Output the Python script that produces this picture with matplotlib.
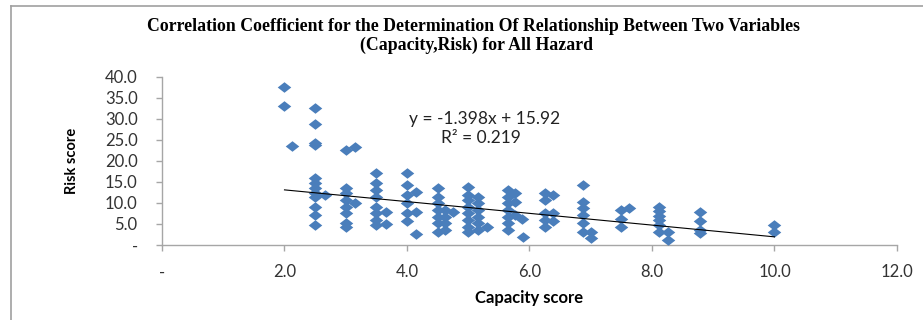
import numpy as np
import matplotlib
matplotlib.use('agg')
from matplotlib import pyplot as plt
from matplotlib.lines import Line2D

plt.rcParams['font.family'] = ['Lato', 'DejaVu Sans']

# capacity score / risk score pairs, read column by column
capacity = [2.0, 2.0,
            2.13,
            2.5, 2.5, 2.5, 2.5, 2.5, 2.5, 2.5, 2.5, 2.5, 2.5, 2.5, 2.5,
            2.66,
            3.0, 3.0, 3.0, 3.0, 3.0, 3.0, 3.0, 3.0,
            3.15, 3.15,
            3.5, 3.5, 3.5, 3.5, 3.5, 3.5, 3.5, 3.5,
            3.66, 3.66,
            4.0, 4.0, 4.0, 4.0, 4.0, 4.0,
            4.14, 4.14, 4.14,
            4.5, 4.5, 4.5, 4.5, 4.5, 4.5, 4.5,
            4.62, 4.62, 4.62, 4.62,
            4.75,
            5.0, 5.0, 5.0, 5.0, 5.0, 5.0, 5.0, 5.0,
            5.16, 5.16, 5.16, 5.16, 5.16, 5.16,
            5.3,
            5.65, 5.65, 5.65, 5.65, 5.65, 5.65, 5.65,
            5.76, 5.76, 5.76,
            5.88, 5.9,
            6.25, 6.25, 6.25, 6.25, 6.25,
            6.38, 6.38, 6.38,
            6.87, 6.87, 6.87, 6.87, 6.87, 6.87,
            7.01, 7.01,
            7.5, 7.5, 7.5,
            7.63,
            8.12, 8.12, 8.12, 8.12, 8.12, 8.12,
            8.26, 8.26,
            8.78, 8.78, 8.78, 8.78,
            10.0, 10.0]
risk = [37.7, 33.1,
        23.6,
        32.7, 28.8, 24.2, 23.8, 15.9, 14.7, 13.5, 12.3, 11.5, 9.1, 7.1, 4.8,
        11.9,
        22.6, 13.5, 12.3, 10.7, 9.1, 7.5, 5.2, 4.4,
        23.3, 9.9,
        17.1, 14.7, 13.1, 11.5, 9.1, 7.5, 6.0, 4.8,
        7.9, 5.1,
        17.1, 14.3, 11.9, 9.9, 7.5, 5.6,
        12.7, 7.9, 2.6,
        13.5, 11.5, 9.9, 8.3, 6.7, 5.2, 3.2,
        8.3, 6.7, 5.2, 3.6,
        7.9,
        13.7, 11.9, 10.7, 9.1, 7.5, 6.0, 4.4, 3.2,
        11.5, 9.9, 8.3, 6.7, 5.2, 3.6,
        4.4,
        13.1, 11.5, 9.9, 8.3, 6.7, 5.2, 3.6,
        12.3, 10.3, 7.1,
        6.3, 2.0,
        12.3, 10.7, 7.5, 6.0, 4.4,
        11.9, 7.5, 5.6,
        14.3, 10.3, 8.7, 7.1, 5.2, 3.2,
        3.2, 1.6,
        8.3, 6.3, 4.4,
        8.7,
        9.1, 8.0, 7.0, 6.0, 4.8, 3.2,
        3.2, 1.2,
        7.9, 5.6, 3.6, 2.8,
        4.8, 3.2]

slope = -1.398
intercept = 15.92
r_squared = 0.219

x_ticks = [0, 2, 4, 6, 8, 10, 12]
y_ticks = [0, 5, 10, 15, 20, 25, 30, 35, 40]

fig = plt.figure(figsize=(9.23, 3.2), dpi=100)
ax = fig.add_axes([0.1755, 0.2344, 0.7963, 0.525])

# wide diamond like the excel marker
diamond = [(-1, 0), (0, 0.78), (1, 0), (0, -0.78), (-1, 0)]
ax.scatter(capacity, risk, marker=diamond, s=95, color='#4A7EBB',
           linewidths=0, zorder=3)

xl = np.array([min(capacity), max(capacity)])
ax.plot(xl, slope * xl + intercept, color='black', lw=0.8, zorder=4)

ax.set_xlim(0, 12)
ax.set_ylim(0, 40)
ax.set_xticks(x_ticks)
ax.set_yticks(y_ticks)
ax.set_xticklabels(['-' if t == 0 else f'{t:.1f}' for t in x_ticks])
ax.set_yticklabels(['-' if t == 0 else f'{t:.1f}' for t in y_ticks])

for s in ['top', 'right']:
    ax.spines[s].set_visible(False)
for s in ['left', 'bottom']:
    ax.spines[s].set_color('#A6A6A6')
    ax.spines[s].set_linewidth(1.0)
ax.tick_params(axis='both', colors='#A6A6A6', labelcolor='#333333',
               length=4.5, width=1.0, labelsize=12)
ax.tick_params(axis='y', pad=13)
ax.tick_params(axis='x', pad=9.5)

ax.set_xlabel('Capacity score', fontsize=12, fontweight='bold')
ax.set_ylabel('Risk score', fontsize=10.5, fontweight='bold')
ax.xaxis.set_label_coords(0.5, -0.27)
ax.yaxis.set_label_coords(-0.1135, 0.5)

ax.text(5.27, 30.0, f'y = {slope}x + {intercept}', ha='center', va='center',
        fontsize=12.5, color='#222222')
ax.text(5.2, 25.5, f'R² = {r_squared}', ha='center', va='center',
        fontsize=12.5, color='#222222')

fig.text(0.513, 0.916, 'Correlation Coefficient for the Determination Of Relationship Between Two Variables',
         ha='center', va='center', fontsize=12.8, fontweight='bold',
         family='Liberation Serif')
fig.text(0.516, 0.859, '(Capacity,Risk) for All Hazard',
         ha='center', va='center', fontsize=12.8, fontweight='bold',
         family='Liberation Serif')

# chart frame (only top and left edges visible in the crop)
fig.add_artist(Line2D([0.012, 1.0], [0.981, 0.981], transform=fig.transFigure,
                      color='#A0A0A0', lw=1.2))
fig.add_artist(Line2D([0.012, 0.012], [0.0, 0.981], transform=fig.transFigure,
                      color='#A0A0A0', lw=1.2))

fig.savefig('out.png', dpi=100)
